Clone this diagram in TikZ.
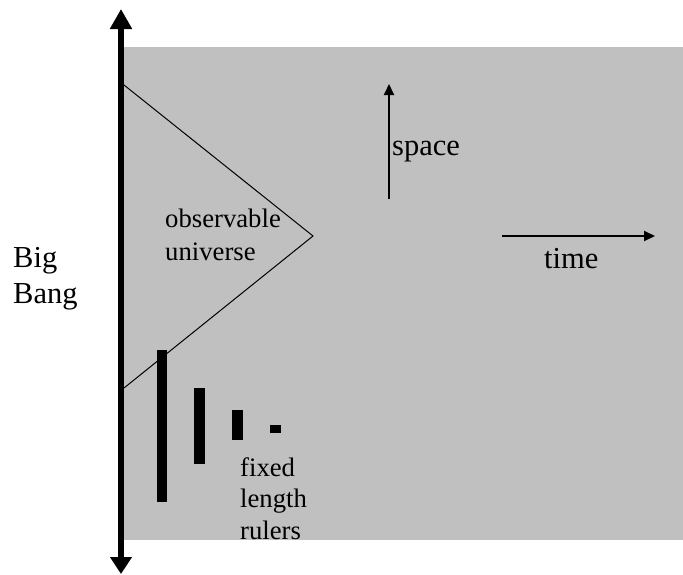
\documentclass[tikz,border=0pt]{standalone}
\usepackage{fontspec}
\setmainfont{Liberation Serif}
\usetikzlibrary{arrows.meta}
\definecolor{bggray}{HTML}{C0C0C0}
\tikzset{
  axisline/.style={line width=6pt,{Triangle[width=21pt,length=20pt]}-{Triangle[width=21pt,length=17pt]}},
  dirarrow/.style={line width=2pt,-{Triangle[width=10pt,length=11pt]}},
  bigtext/.style={inner sep=0pt,anchor=base west,font=\fontsize{30.5}{35}\selectfont},
  smalltext/.style={inner sep=0pt,anchor=base west,font=\fontsize{26.7}{32}\selectfont},
  ruler/.style={fill=black},
  cone/.style={line width=1pt}
}
\begin{document}
\begin{tikzpicture}[x=1pt,y=-1pt]
\useasboundingbox (0,0) rectangle (683,574);
\fill[bggray] (124,47) rectangle (683,540);
% Big Bang axis
\coordinate (axtop) at (121,9);
\coordinate (axbot) at (121,574);
\draw[axisline] (axtop) -- (axbot);
% observable universe cone
\coordinate (c1) at (124,85);
\coordinate (c2) at (313,236);
\coordinate (c3) at (124,388);
\draw[cone] (c1) -- (c2) -- (c3);
% rulers
\fill[ruler] (157,350) rectangle (167,502);
\fill[ruler] (194,388) rectangle (205,464);
\fill[ruler] (232,410) rectangle (243,440);
\fill[ruler] (270,425) rectangle (281,433);
% direction arrows
\coordinate (sp0) at (389,199);
\coordinate (sp1) at (389,84);
\draw[dirarrow] (sp0) -- (sp1);
\coordinate (tm0) at (502,236);
\coordinate (tm1) at (655,236);
\draw[dirarrow] (tm0) -- (tm1);
% labels
\node[bigtext] (space) at (392,155) {space};
\node[bigtext] (time) at (544,268) {time};
\node[bigtext] (big) at (13,267) {Big};
\node[bigtext] (bang) at (13,303) {Bang};
\node[smalltext] (obs1) at (165,227) {observable};
\node[smalltext] (obs2) at (165,260) {universe};
\node[smalltext] (rul1) at (240,476) {fixed};
\node[smalltext] (rul2) at (240,507) {length};
\node[smalltext] (rul3) at (240,539) {rulers};
\end{tikzpicture}
\end{document}
